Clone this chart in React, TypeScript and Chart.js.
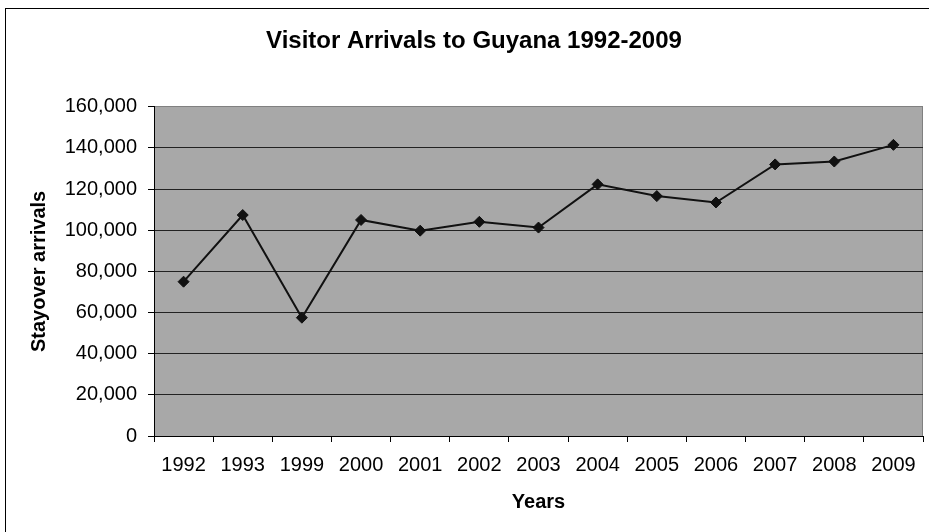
import React, { useEffect, useRef } from 'react';
import { Chart, registerables } from 'chart.js';

Chart.register(...registerables);

const categories = ['1992', '1993', '1999', '2000', '2001', '2002', '2003', '2004', '2005', '2006', '2007', '2008', '2009'];
const arrivals = [75000, 107400, 57500, 105000, 99800, 104100, 101300, 122300, 116600, 113500, 132000, 133400, 141500];
const yMin = 0;
const yMax = 160000;
const yStep = 20000;
const chartTitle = 'Visitor Arrivals to Guyana 1992-2009';
const yAxisTitle = 'Stayover arrivals';
const xAxisTitle = 'Years';

const FONT = "'Liberation Sans', Arial, sans-serif";

const plotBackground = {
  id: 'plotBackground',
  beforeDraw(chart: any) {
    const { ctx, chartArea } = chart;
    if (!chartArea) return;
    ctx.save();
    ctx.fillStyle = '#a8a8a8';
    ctx.fillRect(chartArea.left, chartArea.top, chartArea.right - chartArea.left, chartArea.bottom - chartArea.top);
    ctx.strokeStyle = '#808080';
    ctx.lineWidth = 1;
    ctx.beginPath();
    ctx.moveTo(Math.round(chartArea.right) - 0.5, chartArea.top);
    ctx.lineTo(Math.round(chartArea.right) - 0.5, chartArea.bottom);
    ctx.stroke();
    ctx.restore();
  },
};

export default function App() {
  const canvasRef = useRef<HTMLCanvasElement | null>(null);

  useEffect(() => {
    if (!canvasRef.current) return;
    const chart = new Chart(canvasRef.current, {
      type: 'line',
      data: {
        labels: categories,
        datasets: [
          {
            label: yAxisTitle,
            data: arrivals,
            borderColor: '#111111',
            backgroundColor: '#111111',
            borderWidth: 2,
            pointStyle: 'rectRot',
            pointRadius: 5.5,
            pointBorderWidth: 1,
            pointBackgroundColor: '#111111',
            pointBorderColor: '#111111',
            tension: 0,
            fill: false,
          },
        ],
      },
      options: {
        responsive: false,
        animation: false,
        devicePixelRatio: 1,
        layout: { padding: { left: 25, right: 25, top: 0, bottom: 0 } },
        plugins: {
          legend: { display: false },
          tooltip: { enabled: false },
          title: {
            display: true,
            text: chartTitle,
            color: '#000000',
            font: { family: FONT, size: 24, weight: 'bold' },
            padding: { top: 27, bottom: 51 },
          },
        },
        scales: {
          x: {
            type: 'category',
            offset: true,
            grid: {
              offset: true,
              drawOnChartArea: false,
              drawTicks: true,
              tickLength: 6,
              tickColor: '#000000',
            },
            border: { display: true, color: '#000000', width: 1 },
            ticks: {
              color: '#000000',
              font: { family: FONT, size: 20 },
              padding: 11,
              maxRotation: 0,
              autoSkip: false,
            },
            title: {
              display: true,
              text: xAxisTitle,
              color: '#000000',
              font: { family: FONT, size: 20, weight: 'bold' },
              padding: { top: 0, bottom: 18 },
            },
            afterFit(scale: any) {
              scale.height = 96;
            },
          },
          y: {
            type: 'linear',
            min: yMin,
            max: yMax,
            ticks: {
              stepSize: yStep,
              color: '#000000',
              font: { family: FONT, size: 20 },
              padding: 11,
              callback: (v: any) => Number(v).toLocaleString('en-US'),
            },
            grid: {
              color: (c: any) => (c.tick && c.tick.value === yMax ? '#808080' : '#222222'),
              lineWidth: 1,
              drawTicks: true,
              tickLength: 6,
              tickColor: '#000000',
            },
            border: { display: true, color: '#000000', width: 1 },
            title: {
              display: true,
              text: yAxisTitle,
              color: '#000000',
              font: { family: FONT, size: 20, weight: 'bold' },
              padding: { top: 2, bottom: 0 },
            },
            afterFit(scale: any) {
              scale.width = 129;
            },
          },
        },
      },
      plugins: [plotBackground],
    });
    return () => chart.destroy();
  }, []);

  return (
    <div
      style={{
        position: 'fixed',
        left: 0,
        top: 0,
        width: 929,
        height: 532,
        overflow: 'hidden',
        background: '#ffffff',
      }}
    >
      <div
        style={{
          position: 'absolute',
          left: 5,
          top: 8,
          width: 1000,
          height: 600,
          border: '1px solid #000000',
        }}
      />
      <canvas
        ref={canvasRef}
        width={948}
        height={532}
        style={{ position: 'absolute', left: 0, top: 0, width: 948, height: 532 }}
      />
    </div>
  );
}
